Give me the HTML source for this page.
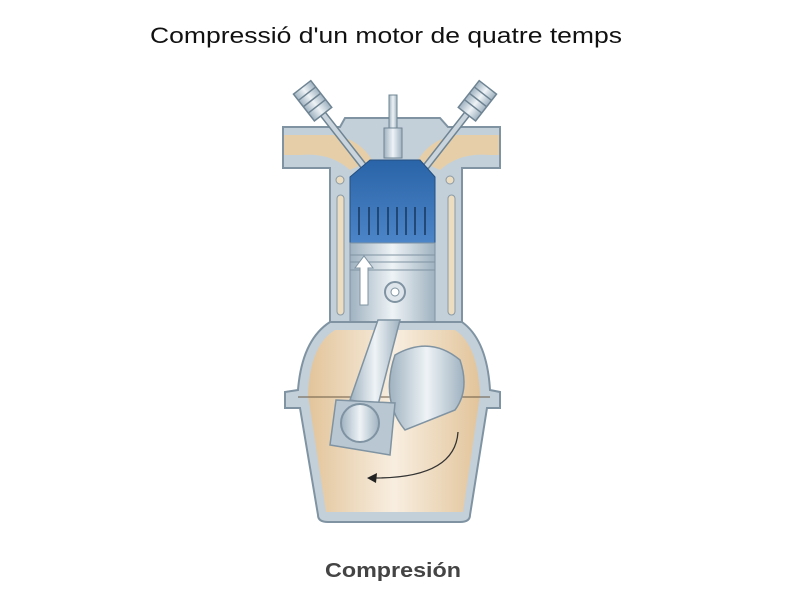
<!DOCTYPE html>
<html><head><meta charset="utf-8"><style>
html,body{margin:0;padding:0;background:#fff;width:800px;height:600px;overflow:hidden}
</style></head><body>
<svg width="800" height="600" viewBox="0 0 800 600" xmlns="http://www.w3.org/2000/svg">
<defs>
<linearGradient id="beige" x1="0" x2="1" y1="0" y2="0">
<stop offset="0" stop-color="#e2c49a"/><stop offset="0.5" stop-color="#f8eee0"/><stop offset="1" stop-color="#e2c49a"/>
</linearGradient>
<linearGradient id="metal" x1="0" x2="1" y1="0" y2="0">
<stop offset="0" stop-color="#9fb2c0"/><stop offset="0.5" stop-color="#eef3f6"/><stop offset="1" stop-color="#9fb2c0"/>
</linearGradient>
<linearGradient id="blue" x1="0" x2="0" y1="0" y2="1">
<stop offset="0" stop-color="#2a64a8"/><stop offset="1" stop-color="#4c86c8"/>
</linearGradient>
</defs>
<text x="150" y="43" font-family="Liberation Sans, sans-serif" font-size="22" fill="#111" textLength="472" lengthAdjust="spacingAndGlyphs">Compressió d'un motor de quatre temps</text>

<!-- head -->
<path d="M283,127 L340,127 L345,118 L440,118 L448,127 L500,127 L500,168 L462,168 L462,330 L330,330 L330,168 L283,168 Z" fill="#c3d0d9" stroke="#7f93a2" stroke-width="2"/>
<path d="M284,135 L335,135 Q360,140 372,160 L350,170 Q330,152 300,155 L284,155 Z" fill="#e6cfa8"/>
<path d="M499,135 L455,135 Q430,140 418,160 L440,170 Q460,152 490,155 L499,155 Z" fill="#e6cfa8"/>
<!-- valves -->
<g stroke="#6f8493" stroke-width="1.5">
<g transform="translate(312,100) rotate(-38)"><rect x="-3" y="10" width="6" height="75" fill="#c9d4dc"/><rect x="-11" y="-16" width="22" height="34" fill="url(#metal)"/><line x1="-11" y1="-8" x2="11" y2="-8"/><line x1="-11" y1="0" x2="11" y2="0"/><line x1="-11" y1="8" x2="11" y2="8"/></g>
<g transform="translate(478,100) rotate(38)"><rect x="-3" y="10" width="6" height="75" fill="#c9d4dc"/><rect x="-11" y="-16" width="22" height="34" fill="url(#metal)"/><line x1="-11" y1="-8" x2="11" y2="-8"/><line x1="-11" y1="0" x2="11" y2="0"/><line x1="-11" y1="8" x2="11" y2="8"/></g>
</g>
<rect x="337" y="195" width="7" height="120" rx="3.5" fill="#ecdcc0" stroke="#8a9aa6"/>
<rect x="448" y="195" width="7" height="120" rx="3.5" fill="#ecdcc0" stroke="#8a9aa6"/>
<circle cx="340" cy="180" r="4" fill="#ecdcc0" stroke="#8a9aa6"/>
<circle cx="450" cy="180" r="4" fill="#ecdcc0" stroke="#8a9aa6"/>
<!-- spark plug -->
<rect x="389" y="95" width="8" height="40" fill="url(#metal)" stroke="#6f8493"/>
<rect x="384" y="128" width="18" height="30" fill="url(#metal)" stroke="#6f8493"/>
<!-- chamber -->
<path d="M370,160 L420,160 L435,177 L435,243 L350,243 L350,177 Z" fill="url(#blue)" stroke="#244f80"/>
<g stroke="#17365c" stroke-width="1.5" fill="#17365c">
<line x1="359" y1="207" x2="359" y2="235"/><line x1="369" y1="207" x2="369" y2="235"/><line x1="378" y1="207" x2="378" y2="235"/><line x1="388" y1="207" x2="388" y2="235"/><line x1="397" y1="207" x2="397" y2="235"/><line x1="406" y1="207" x2="406" y2="235"/><line x1="415" y1="207" x2="415" y2="235"/><line x1="425" y1="207" x2="425" y2="235"/>
</g>
<!-- piston -->
<rect x="350" y="243" width="85" height="80" fill="url(#metal)" stroke="#7f93a2"/>
<line x1="350" y1="255" x2="435" y2="255" stroke="#7f93a2"/><line x1="350" y1="262" x2="435" y2="262" stroke="#7f93a2"/><line x1="350" y1="270" x2="435" y2="270" stroke="#7f93a2"/>
<circle cx="395" cy="292" r="10" fill="#dfe6eb" stroke="#7f93a2" stroke-width="2"/><circle cx="395" cy="292" r="4" fill="#fff" stroke="#7f93a2"/>
<path d="M360,305 L360,268 L355,268 L364,256 L373,268 L368,268 L368,305 Z" fill="#fff" stroke="#7f93a2"/>
<!-- crankcase -->
<path d="M330,322 L462,322 Q487,340 490,390 L500,392 L500,408 L487,408 L470,515 Q470,522 460,522 L328,522 Q318,522 318,515 L300,408 L285,408 L285,392 L298,390 Q302,340 330,322 Z" fill="#c3d0d9" stroke="#7f93a2" stroke-width="2"/>
<path d="M335,330 L455,330 Q478,345 480,395 L463,512 L326,512 L308,395 Q310,345 335,330 Z" fill="url(#beige)"/>
<line x1="298" y1="397" x2="490" y2="397" stroke="#6b5a45" stroke-width="1"/>
<!-- counterweight -->
<path d="M395,355 Q430,335 460,360 Q470,390 455,410 L405,430 Q380,400 395,355 Z" fill="url(#metal)" stroke="#7f93a2" stroke-width="1.5"/>
<!-- rod -->
<path d="M378,320 L400,320 L378,405 L350,400 Z" fill="url(#metal)" stroke="#7f93a2" stroke-width="1.5"/>
<path d="M336,400 L395,403 L390,455 L330,445 Z" fill="#b9c7d2" stroke="#7f93a2" stroke-width="1.5"/>
<circle cx="360" cy="423" r="19" fill="url(#metal)" stroke="#7f93a2" stroke-width="2"/>
<!-- arrow -->
<path d="M458,432 Q455,478 375,478" fill="none" stroke="#333" stroke-width="1.3"/>
<path d="M367,478 L377,473 L376,483 Z" fill="#222"/>
<text x="325" y="577" font-family="Liberation Sans, sans-serif" font-weight="bold" font-size="20" fill="#444" textLength="136" lengthAdjust="spacingAndGlyphs">Compresión</text>
</svg>
</body></html>
